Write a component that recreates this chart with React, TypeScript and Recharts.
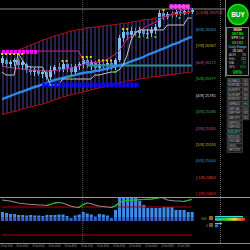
import React from "react";
import { ComposedChart, Bar, Line, XAxis, YAxis, ReferenceLine } from "recharts";

// candles (H1)
const opens = [26164, 26200, 26152, 26176, 26200, 26140, 26152, 26081, 26057, 26081, 26033, 26057, 25998, 26081, 26116, 26093, 26152, 26105, 26057, 26128, 26152, 26200, 26140, 26176, 26105, 26152, 26128, 26164, 26128, 26200, 26461, 26532, 26496, 26544, 26520, 26556, 26508, 26520, 26556, 26591, 26758, 26710, 26746, 26734, 26770, 26746, 26781, 26770];
const highs = [26247, 26223, 26200, 26223, 26223, 26200, 26164, 26128, 26105, 26116, 26081, 26081, 26128, 26140, 26164, 26176, 26164, 26152, 26152, 26176, 26223, 26223, 26200, 26188, 26176, 26176, 26188, 26200, 26223, 26496, 26580, 26580, 26591, 26580, 26591, 26580, 26568, 26591, 26627, 26793, 26781, 26770, 26781, 26793, 26805, 26817, 26829, 26817];
const lows = [26128, 26116, 26105, 26128, 26105, 26081, 26045, 26021, 26009, 26009, 25986, 25962, 25962, 26033, 26057, 26057, 26057, 26009, 26033, 26081, 26105, 26105, 26081, 26057, 26057, 26081, 26069, 26081, 26081, 26176, 26413, 26437, 26461, 26485, 26485, 26473, 26461, 26473, 26508, 26580, 26675, 26686, 26698, 26710, 26722, 26734, 26746, 26746];
const closes = [26223, 26152, 26176, 26200, 26140, 26176, 26081, 26057, 26081, 26033, 26057, 25998, 26081, 26116, 26093, 26152, 26105, 26057, 26128, 26152, 26200, 26140, 26176, 26105, 26152, 26128, 26164, 26128, 26200, 26461, 26532, 26496, 26544, 26520, 26556, 26508, 26520, 26556, 26591, 26758, 26710, 26746, 26734, 26770, 26746, 26781, 26770, 26793];

// channel + averages
const upperBand = [26283, 26295, 26300, 26306, 26318, 26336, 26354, 26378, 26395, 26413, 26437, 26449, 26467, 26485, 26496, 26514, 26526, 26544, 26550, 26562, 26568, 26580, 26585, 26591, 26597, 26603, 26609, 26615, 26621, 26627, 26633, 26639, 26651, 26657, 26663, 26675, 26680, 26686, 26698, 26704, 26710, 26722, 26734, 26740, 26746, 26758, 26764, 26770];
const lowerBand = [25552, 25564, 25576, 25588, 25600, 25618, 25630, 25641, 25653, 25665, 25677, 25689, 25707, 25724, 25742, 25760, 25772, 25784, 25796, 25808, 25820, 25831, 25843, 25855, 25867, 25879, 25891, 25903, 25915, 25926, 25938, 25950, 25956, 25962, 25974, 25980, 25986, 25998, 26004, 26009, 26015, 26021, 26027, 26033, 26039, 26045, 26051, 26057];
const maBlue = [25736, 25754, 25772, 25790, 25808, 25825, 25843, 25861, 25879, 25891, 25909, 25926, 25944, 25962, 25974, 25986, 25998, 26009, 26021, 26033, 26045, 26051, 26057, 26069, 26075, 26087, 26099, 26110, 26122, 26134, 26146, 26164, 26182, 26200, 26217, 26235, 26259, 26277, 26295, 26318, 26336, 26354, 26378, 26395, 26413, 26437, 26455, 26473];
const maMagenta = [26128, 26116, 26110, 26105, 26099, 26093, 26087, 26081, 26081, 26075, 26069, 26069, 26069, 26075, 26081, 26087, 26093, 26105, 26116, 26128, 26146, 26158, 26164, 26170, 26176, 26188, 26205, 26235, 26265, 26306, 26378, 26449, 26485, 26520, 26550, 26574, 26603, 26627, 26651, 26675, 26704, 26728, 26746, 26764, 26781, 26793, 26805, 26817];
const magentaStepStart = 4;
const magentaStep = [26306, 26306, 26306, 26306, 26306, 26306, 26306, 26306, 26306, 26306, 26306, 26306, 26306, 26306, 26306, 26306, 26200, 26158];
const whiteStep = [26057, 26021, 26021, 26021, 26283, 26200, 26128, 26116, 26116, 26116, 26116, 26021, 25903, 25903, 25903, 25974, 25974, 25974, 25974, 25974, 25974, 25974, 25974, 26021, 26021, 26033, 26045, 26057, 26057, 26081, 26140, 26259, 26437, 26520, 26556, 26556, 26556, 26556, 26556, 26556, 26556, 26615, 26615, 26615, 26615, 26615, 26698, 26698];

// horizontal level segments [first bar, last bar]
const blueLevel = { bars: [10, 34], price: 25903 };
const magentaLevel = { bars: [0, 9], price: 26295 };
const tealLevel = { bars: [21, 47], price: 26135 };

// markers
const fractalUpBars = [0, 1, 2, 3, 4, 5, 15, 16, 20, 21, 22, 24, 25, 26, 27, 30, 31, 40];
const fractalUpPrices = [26271, 26271, 26271, 26271, 26271, 26271, 26188, 26188, 26235, 26235, 26235, 26194, 26194, 26194, 26194, 26568, 26568, 26793];
const fractalDownBars = [12, 17, 28, 34, 36, 38, 44];
const fractalDownPrices = [25903, 26009, 26057, 26473, 26461, 26473, 26698];
const pinkBars = [42, 43, 44, 45, 46];
const pinkPrice = 26835;

const highLine = 26805;

// murrey math levels on the right
const murreyLevels = [26758, 26563, 26367, 26172, 25977, 25781, 25586, 25391, 25195, 25000, 24805, 24609];
const murreyTags = ["[+1/8]", "[8/8]", "[7/8]", "[6/8]", "[5/8]", "[4/8]", "[3/8]", "[2/8]", "[1/8]", "[0/8]", "[-1/8]", "[-2/8]"];
const murreyColors = ["#e0502a", "#3a9ad0", "#c8b428", "#c84aa8", "#30c030", "#d8d8d8", "#30b030", "#c84aa8", "#c8b428", "#3a9ad0", "#e0502a", "#e03030"];

// sub window
const histValues = [18, 16, 14, 14, 12, 12, 11, 12, 11, 11, 10, 12, 12, 12, 13, 13, 10, 6, 11, 13, 18, 15, 13, 9, 14, 13, 11, 6, 22, 46, 46, 46, 46, 46, 40, 32, 26, 26, 26, 26, 28, 28, 28, 22, 22, 22, 18, 18];
const histBase = 8;
const oscValues = [42, 41, 40, 38, 36, 35, 34, 33, 33, 32, 32, 31, 33, 36, 37, 36, 33, 30, 28, 27, 32, 36, 35, 32, 30, 29, 28, 27, 30, 36, 40, 41, 41.5, 42, 42.5, 43, 43.5, 44, 45, 47, 46, 42, 41, 40, 40, 39, 41, 43];
const oscLevels = [28, -28];

const timeSlots = [0, 4, 8, 12, 16, 20, 24, 28, 32, 36, 40, 44];
const timeLabels = ["18 Jun 16:00", "18 Jun 20:00", "19 Jun 00:00", "19 Jun 04:00", "19 Jun 08:00", "19 Jun 12:00", "19 Jun 16:00", "19 Jun 20:00", "22 Jun 00:00", "22 Jun 04:00", "22 Jun 08:00", "22 Jun 12:00"];

const symbols = ["EURAUD", "EURCAD", "EURJPY", "EURGBP", "EURUSD", "GBPAUD", "GBPCAD", "GBPCHF", "GBPJPY", "GBPNZD", "GBPUSD", "NZDJPY", "NZDUSD", "USDCAD", "US30", "JP225"];
const symbolTf = ["M1", "M5", "M1", "M5", "H1", "H4", "D1", "M5", "M1", "", "", "", "", "", "", ""];

const SLOTS = 56;
const FONT = "Liberation Sans, Arial, sans-serif";

const within = (i: number, r: number[]) => i >= r[0] && i <= r[1];

const rows = Array.from({ length: SLOTS }, (_, i) => {
  const has = i < closes.length;
  const fu = fractalUpBars.indexOf(i);
  const fd = fractalDownBars.indexOf(i);
  const ms = i - magentaStepStart;
  const h = histValues[i];
  const rising = (k: number) => k > 0 && k < oscValues.length && oscValues[k] > oscValues[k - 1];
  return {
    slot: i,
    open: has ? opens[i] : null,
    high: has ? highs[i] : null,
    low: has ? lows[i] : null,
    close: has ? closes[i] : null,
    candle: has ? [lows[i], highs[i]] : null,
    band: has ? [lowerBand[i], upperBand[i]] : null,
    upper: has ? upperBand[i] : null,
    lower: has ? lowerBand[i] : null,
    ma: has ? maBlue[i] : null,
    mag: has ? maMagenta[i] : null,
    magStep: ms >= 0 && ms < magentaStep.length ? magentaStep[ms] : null,
    white: has ? whiteStep[i] : null,
    blueLvl: within(i, blueLevel.bars) ? blueLevel.price : null,
    magLvl: within(i, magentaLevel.bars) ? magentaLevel.price : null,
    tealLvl: within(i, tealLevel.bars) ? tealLevel.price : null,
    fUp: fu >= 0 ? fractalUpPrices[fu] : null,
    fDown: fd >= 0 ? fractalDownPrices[fd] : null,
    pink: pinkBars.includes(i) ? pinkPrice : null,
    hBase: h != null ? Math.min(histBase, h) : null,
    hTop: h != null ? Math.max(0, h - histBase) : null,
    osc: i < oscValues.length ? oscValues[i] : null,
    oscUp: rising(i) || rising(i + 1) ? oscValues[i] : null,
  };
});

const crisp = (v: number) => Math.round(v - 0.5) + 0.5;

const CandleShape = (props: any) => {
  const { x, y, width, height, payload } = props;
  if (!payload || payload.high == null) return <g />;
  const top = Math.min(y, y + height);
  const h = Math.abs(height);
  const span = payload.high - payload.low;
  const k = span > 0 ? h / span : 0;
  const py = (v: number) => top + (payload.high - v) * k;
  const up = payload.close >= payload.open;
  const color = up ? "#7fbff2" : "#5b90cf";
  const cx = crisp(x + width / 2);
  const b1 = py(Math.max(payload.open, payload.close));
  const b2 = py(Math.min(payload.open, payload.close));
  return (
    <g>
      <line x1={cx} x2={cx} y1={top} y2={top + h} stroke={color} strokeWidth={1} />
      <rect x={cx - 1.5} y={b1} width={3} height={Math.max(1, b2 - b1)} fill={color} />
    </g>
  );
};

// vertical hatch between the two channel lines
const HatchShape = (props: any) => {
  const { x, y, width, height, payload } = props;
  if (!payload || payload.upper == null) return <g />;
  const top = Math.min(y, y + height);
  const cx = Math.round(x + width / 2);
  return <rect x={cx - 0.5} y={top} width={1} height={Math.abs(height)} fill="#46469a" />;
};

const squareDot = (color: string, size: number) => (p: any) => {
  const key = `d${p.index}`;
  if (p.value == null || p.cy == null || isNaN(p.cy)) return <g key={key} />;
  return <rect key={key} x={p.cx - size / 2} y={p.cy - size / 2} width={size} height={size} fill={color} />;
};

const circleDot = (color: string, r: number) => (p: any) => {
  const key = `c${p.index}`;
  if (p.value == null || p.cy == null || isNaN(p.cy)) return <g key={key} />;
  return <circle key={key} cx={p.cx} cy={p.cy} r={r} fill={color} />;
};

const levelLabel = (i: number) => (props: any) => {
  const vb = props.viewBox || { y: 0 };
  const txt = `${murreyTags[i]} ${murreyLevels[i]}`;
  return (
    <text x={196} y={vb.y + 1.4} fontSize={4} fill={murreyColors[i]} fontFamily={FONT} textLength={i === 0 ? 26 : 20} lengthAdjust="spacingAndGlyphs">
      {txt}
    </text>
  );
};

const TimeTick = (props: any) => {
  const { x, payload } = props;
  const idx = timeSlots.indexOf(payload.value);
  if (idx < 0) return <g />;
  return (
    <text x={Math.max(0.5, x - 2)} y={50.4} fontSize={2.6} fill="#a0a0a0" fontFamily={FONT} textLength={12} lengthAdjust="spacingAndGlyphs">
      {timeLabels[idx]}
    </text>
  );
};

function InfoPanel() {
  const infoRows: [string, string, number, string][] = [
    ["HIGH", "", 30.5, "#ffffff"],
    ["26780", "", 34.8, "#00e000"],
    ["SPR 1.4", "", 39.3, "#bbbbbb"],
    ["25183", "", 43.5, "#00d000"],
    ["Daily Range", "", 47.8, "#7fd8e8"],
    ["26 545", "", 51.8, "#ffffff"],
    ["ADR", "90", 55.6, "#bbbbbb"],
    ["H4s", "111", 59.5, "#bbbbbb"],
    ["MA", "72", 63.5, "#bbbbbb"],
    ["W%", "11%", 67.5, "#bbbbbb"],
  ];
  return (
    <svg width={250} height={250} style={{ position: "absolute", left: 0, top: 0, pointerEvents: "none" }}>
      <line x1={0} x2={250} y1={197.5} y2={197.5} stroke="#9a9a9a" strokeWidth={1} />
      <line x1={0} x2={250} y1={243.5} y2={243.5} stroke="#8a8a8a" strokeWidth={1} />
      <line x1={220.5} x2={220.5} y1={0} y2={243} stroke="#6a6a6a" strokeWidth={1} strokeDasharray="1 1" />
      <line x1={225.5} x2={225.5} y1={0} y2={77} stroke="#7a7a7a" strokeWidth={1} />

      <circle cx={238} cy={14.5} r={10} fill="#00a000" stroke="#16e016" strokeWidth={1.6} />
      <text x={238} y={16.8} textAnchor="middle" fontSize={6.5} fontWeight="bold" fill="#ffffff" fontFamily={FONT}>BUY</text>

      <rect x={226.5} y={27.5} width={22} height={48} fill="#0c0c0c" stroke="#9a9a9a" strokeWidth={0.8} />
      {infoRows.map(([a, b, y, c], k) => (
        <g key={k}>
          <text x={b ? 229 : 237.5} y={y} textAnchor={b ? "start" : "middle"} fontSize={k === 1 || k === 3 ? 4.2 : 3.3} fontWeight={k < 4 ? "bold" : "normal"} fill={c} fontFamily={FONT}>{a}</text>
          {b ? (
            <text x={246} y={y} textAnchor="end" fontSize={3.3} fill={k >= 8 ? "#00d000" : "#bbbbbb"} fontFamily={FONT}>{b}</text>
          ) : null}
        </g>
      ))}
      <text x={237.5} y={73.8} textAnchor="middle" fontSize={4.6} fontWeight="bold" fill="#00d000" fontFamily={FONT}>96%</text>

      {symbols.map((s, k) => {
        const y = 78.5 + k * 4.65;
        return (
          <g key={s}>
            <rect x={227} y={y} width={15.5} height={4.2} fill="#1c1c1c" stroke="#5a5a5a" strokeWidth={0.5} />
            <text x={228.2} y={y + 3.2} fontSize={3} fill={k === 11 ? "#3ccfd8" : "#b8b8b8"} fontFamily={FONT} textLength={s.length > 4 ? 12 : 8} lengthAdjust="spacingAndGlyphs">{s}</text>
            {symbolTf[k] ? (
              <g>
                <rect x={243} y={y} width={6} height={4.2} fill="#1c1c1c" stroke="#5a5a5a" strokeWidth={0.5} />
                <text x={246} y={y + 3.2} textAnchor="middle" fontSize={3} fill={k === 5 ? "#3ccfd8" : "#b8b8b8"} fontFamily={FONT}>{symbolTf[k]}</text>
              </g>
            ) : null}
          </g>
        );
      })}

      <defs>
        <linearGradient id="heat" x1="0" x2="1" y1="0" y2="0">
          <stop offset="0" stopColor="#20c0c0" />
          <stop offset="0.35" stopColor="#30d030" />
          <stop offset="0.65" stopColor="#e0e020" />
          <stop offset="1" stopColor="#e02020" />
        </linearGradient>
      </defs>
      <text x={201} y={219.5} fontSize={3.4} fill="#20c020" fontFamily={FONT}>463</text>
      <rect x={209} y={216} width={4} height={4} fill="#8a6a10" />
      <rect x={215} y={216} width={28} height={1.2} fill="#3ad8e8" />
      <rect x={215} y={217.6} width={30} height={3.2} fill="url(#heat)" />
      <text x={206} y={226.5} fontSize={3.4} fill="#20c020" fontFamily={FONT}>0</text>
      <rect x={209} y={223} width={4} height={4} fill="#6a5a20" />
      <rect x={215} y={223} width={7} height={1.2} fill="#3ad8e8" />
      <rect x={215} y={224.6} width={3} height={2.6} fill="#3a6ae0" />
    </svg>
  );
}

export default function App() {
  return (
    <div style={{ position: "fixed", left: 0, top: 0, width: 250, height: 250, background: "#000", overflow: "hidden" }}>
      <div style={{ position: "absolute", left: 0, top: 0 }}>
        <ComposedChart width={226} height={197} data={rows} margin={{ top: 0, right: 0, bottom: 0, left: 0 }}>
          <XAxis dataKey="slot" hide />
          <YAxis hide domain={[24573, 26912]} allowDataOverflow />
          <Bar dataKey="band" barSize={3} shape={HatchShape} isAnimationActive={false} />
        </ComposedChart>
      </div>
      <div style={{ position: "absolute", left: 0, top: 0 }}>
        <ComposedChart width={226} height={197} data={rows} margin={{ top: 0, right: 0, bottom: 0, left: 0 }}>
          <XAxis dataKey="slot" hide />
          <YAxis hide domain={[24573, 26912]} allowDataOverflow />
          <ReferenceLine y={highLine} stroke="#8a8a8a" strokeWidth={1} />
          <ReferenceLine x={20} stroke="#5a5a5a" strokeDasharray="1 1" />
          {murreyLevels.map((lv, i) => (
            <ReferenceLine key={lv} y={lv} stroke="none" label={levelLabel(i)} />
          ))}
          <Line dataKey="upper" stroke="#a80c0c" strokeWidth={1.2} dot={false} activeDot={false} isAnimationActive={false} />
          <Line dataKey="lower" stroke="#a80c0c" strokeWidth={1.2} dot={false} activeDot={false} isAnimationActive={false} />
          <Line dataKey="tealLvl" stroke="#2e8f8f" strokeWidth={2} dot={false} activeDot={false} isAnimationActive={false} />
          <Line dataKey="ma" stroke="#2b8ae6" strokeWidth={2.4} dot={false} activeDot={false} isAnimationActive={false} />
          <Line dataKey="mag" stroke="#d0249c" strokeWidth={1} dot={false} activeDot={false} isAnimationActive={false} />
          <Line dataKey="magStep" stroke="#d0249c" strokeWidth={1} dot={false} activeDot={false} isAnimationActive={false} />
          <Line dataKey="white" stroke="#c8c8c8" strokeWidth={1} dot={false} activeDot={false} isAnimationActive={false} />
          <Line dataKey="blueLvl" stroke="#0a0aff" strokeWidth={5} strokeDasharray="3 1" dot={false} activeDot={false} isAnimationActive={false} />
          <Line dataKey="magLvl" stroke="#ff00ff" strokeWidth={4} strokeDasharray="3 1" dot={false} activeDot={false} isAnimationActive={false} />
          <Bar dataKey="candle" barSize={3} fill="#7fbff2" shape={CandleShape} isAnimationActive={false} />
          <Line dataKey="fUp" stroke="none" dot={squareDot("#f0d000", 2)} activeDot={false} isAnimationActive={false} />
          <Line dataKey="fDown" stroke="none" dot={squareDot("#10e010", 2)} activeDot={false} isAnimationActive={false} />
          <Line dataKey="pink" stroke="none" dot={circleDot("#ff40ff", 2.4)} activeDot={false} isAnimationActive={false} />
        </ComposedChart>
      </div>
      <div style={{ position: "absolute", left: 0, top: 197 }}>
        <ComposedChart width={226} height={53} data={rows} margin={{ top: 0, right: 0, bottom: 0, left: 0 }} barGap={0}>
          <XAxis dataKey="slot" height={8} ticks={timeSlots} interval={0} tick={TimeTick} tickLine={false} axisLine={false} />
          <YAxis hide domain={[-42, 48]} allowDataOverflow />
          {oscLevels.map((lv) => (
            <ReferenceLine key={lv} segment={[{ x: 0, y: lv }, { x: 47, y: lv }]} stroke="#b00000" strokeWidth={1} />
          ))}
          <Bar dataKey="hBase" stackId="h" barSize={3} fill="#3464c8" isAnimationActive={false} />
          <Bar dataKey="hTop" stackId="h" barSize={3} fill="#3f8cea" isAnimationActive={false} />
          <Line dataKey="osc" stroke="#8a8a8a" strokeWidth={1.2} dot={false} activeDot={false} isAnimationActive={false} />
          <Line dataKey="oscUp" stroke="#10c010" strokeWidth={1.2} dot={false} activeDot={false} isAnimationActive={false} />
          <ReferenceLine x={20} stroke="#5a5a5a" strokeDasharray="1 1" />
        </ComposedChart>
      </div>
      <InfoPanel />
    </div>
  );
}
